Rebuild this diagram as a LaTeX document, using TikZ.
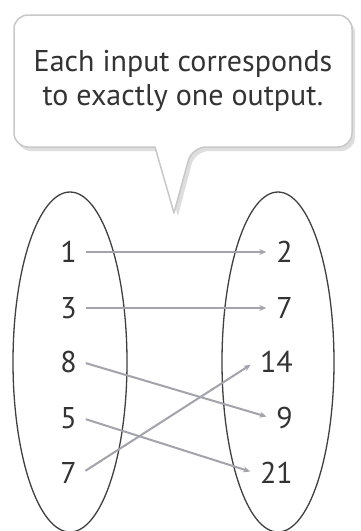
\documentclass[tikz,border=0pt]{standalone}
\usepackage{fontspec}
\setmainfont{PT Sans}
\usetikzlibrary{arrows.meta}
\definecolor{txt}{HTML}{333333}
\definecolor{arrc}{HTML}{A3A3AB}
\definecolor{bub}{HTML}{C8C8C8}
\tikzset{
  num/.style={font=\fontsize{30}{30}\selectfont, text=txt, inner sep=5pt, text height=21pt, text depth=0pt},
  arr/.style={draw=arrc, line width=2pt, -{Stealth[length=7pt,width=6pt]}, shorten <=4pt, shorten >=5pt},
  oval/.style={draw=black!75, line width=1.3pt},
  bubble/.style={draw=bub, line width=1.5pt, fill=white, line join=round}
}
\begin{document}
\begin{tikzpicture}[x=1pt,y=-1pt]
\useasboundingbox (0,0) rectangle (360,531);
\fill[white] (0,0) rectangle (360,531);
% shadow
\fill[black!13] (158,151) [rounded corners=14pt] -- (17,151) -- (17,19) -- (355,19) -- (355,151) -- (195,151) [sharp corners] -- (178,216) -- cycle;
% bubble
\draw[bubble] (155,147) [rounded corners=14pt] -- (14,147) -- (14,15) -- (352,15) -- (352,147) -- (192,147) [sharp corners] -- (174,213) -- cycle;
\node[font=\fontsize{30}{34}\selectfont, text=txt, align=center] (msg) at (183,81) {Each input corresponds\\to exactly one output.};
% ovals
\draw[oval] (70,362) ellipse [x radius=57, y radius=170];
\draw[oval] (278,362) ellipse [x radius=56, y radius=170];
% left numbers
\node[num, anchor=east] (l1) at (82,252) {1};
\node[num, anchor=east] (l3) at (82,308) {3};
\node[num, anchor=east] (l8) at (82,362) {8};
\node[num, anchor=east] (l5) at (82,418) {5};
\node[num, anchor=east] (l7) at (82,473) {7};
% right numbers
\node[num, anchor=east] (r2) at (298,252) {2};
\node[num, anchor=east] (r7) at (298,308) {7};
\node[num, anchor=east] (r14) at (298,362) {14};
\node[num, anchor=east] (r9) at (298,418) {9};
\node[num, anchor=east] (r21) at (298,473) {21};
% arrows
\draw[arr] (l1.east) -- (r2.west);
\draw[arr] (l3.east) -- (r7.west);
\draw[arr] (l8.east) -- (r9.west);
\draw[arr] (l7.east) -- (r14.west);
\draw[arr] (l5.east) -- (r21.west);
\end{tikzpicture}
\end{document}
